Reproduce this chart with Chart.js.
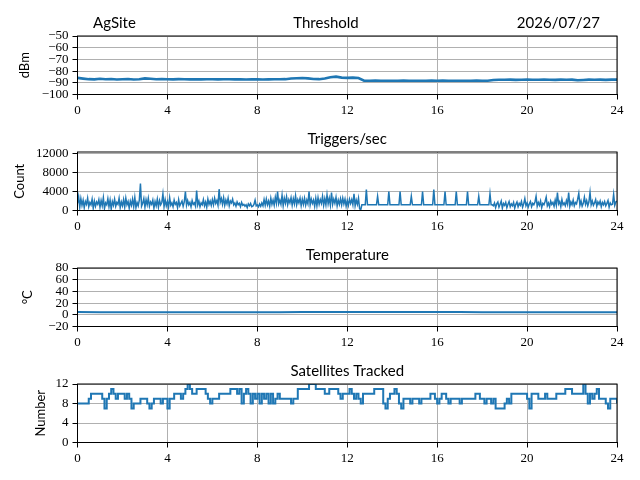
<!DOCTYPE html>
<html>
<head>
<meta charset="utf-8">
<script src="https://cdn.jsdelivr.net/npm/chart.js@4.4.1/dist/chart.umd.min.js"></script>
<style>
  body { margin: 0; background: #fff; }
  .panel { position: absolute; left: 0; width: 640px; height: 116px; }
</style>
</head>
<body>
<div class="panel" style="top:0"><canvas id="threshold" width="640" height="116"></canvas></div>
<div class="panel" style="top:116px"><canvas id="triggers" width="640" height="116"></canvas></div>
<div class="panel" style="top:232px"><canvas id="temperature" width="640" height="116"></canvas></div>
<div class="panel" style="top:348px"><canvas id="satellites" width="640" height="116"></canvas></div>
<script>
// x axis: hours of the day
const hourTicks = [0, 4, 8, 12, 16, 20, 24];

// threshold, dBm, one reading every 15 min
const thresholdStep = 0.25;
const thresholdDbm = [
  -85.8, -86.4, -86.9, -87.1,  -86.6, -87.0, -86.8, -87.2,  -87.0, -86.8, -87.2, -87.0,
  -86.2, -86.5, -87.0, -86.7,  -87.0, -87.1, -86.9, -87.0,  -87.1, -87.0, -87.1, -87.0,
  -87.0, -87.1, -87.0, -87.0,  -87.1, -87.0, -87.2, -87.1,  -87.1, -87.2, -87.1, -87.0,
  -87.0, -86.9, -86.3, -86.1,  -85.9, -86.2, -86.8, -86.9,  -86.4, -85.3, -84.7, -85.6,
  -85.8, -85.6, -85.9, -88.2,  -88.2, -88.1, -88.2, -88.2,  -88.2, -88.2, -88.1, -88.2,
  -88.2, -88.2, -88.2, -88.1,  -88.2, -88.1, -88.2, -88.2,  -88.2, -88.2, -88.2, -88.1,
  -88.2, -88.2, -87.6, -87.4,  -87.4, -87.3, -87.5, -87.4,  -87.3, -87.4, -87.4, -87.3,
  -87.4, -87.5, -87.3, -87.4,  -87.3, -87.8, -87.6, -87.3,  -87.4, -87.3, -87.5, -87.3,
  -87.3
];
const thresholdTicks = [-100, -90, -80, -70, -60, -50];

// triggers per second, one reading every 3 min (20 per row = 1 hour)
const triggerStep = 0.05;
const triggerCounts = [
  1500, 2900, 700, 2500, 1100, 2200, 600, 1900, 1300, 2600, 800, 1700, 1200, 2400, 500, 2000, 900, 1800, 1300, 2300,
  700, 2100, 1000, 2700, 400, 1600, 1200, 2500, 800, 2200, 300, 1900, 1100, 2400, 900, 1700, 1300, 2600, 600, 1800,
  1000, 2300, 700, 2600, 1200, 1900, 500, 2000, 1100, 2400, 800, 2700, 600, 1700, 1000, 2200, 5700, 900, 1500, 2500,
  700, 2300, 1200, 2600, 900, 1800, 1300, 2200, 500, 1900, 1000, 2400, 700, 2100, 1200, 1700, 3500, 800, 2300, 1000,
  1900, 700, 2700, 1100, 1600, 800, 2200, 1300, 1700, 600, 2300, 1000, 1500, 2000, 900, 1800, 4000, 1100, 2100, 1200,
  1700, 800, 2100, 1300, 1600, 900, 4200, 1200, 2000, 800, 1600, 1200, 2300, 1000, 1800, 700, 2400, 1300, 2000, 1100,
  2300, 1200, 2600, 1500, 2100, 1100, 4500, 1700, 2500, 1300, 2700, 1100, 2200, 1400, 2600, 1000, 2000, 1600, 2400, 1200,
  1600, 900, 1800, 1200, 1500, 800, 1700, 1100, 1300, 900, 1200, 600, 1400, 1000, 1500, 800, 900, 1300, 2200, 1000,
  1200, 800, 1400, 900, 1600, 1000, 2300, 1100, 2400, 1200, 2000, 900, 2600, 1300, 2200, 1100, 2800, 1500, 4000, 1400,
  2200, 1300, 3200, 1000, 2600, 1500, 2900, 1200, 2300, 1600, 2700, 1100, 2500, 1400, 3100, 1200, 2300, 1600, 2600, 1000,
  2400, 1300, 2600, 1100, 2200, 1400, 4000, 1200, 2400, 1500, 2200, 900, 2600, 1000, 2700, 1300, 2300, 1500, 3000, 1100,
  2500, 1200, 3300, 1400, 2600, 1100, 3800, 1300, 2400, 1500, 2800, 1000, 2200, 1300, 2500, 1200, 2600, 1400, 2400, 900,
  2100, 1100, 2400, 1500, 2300, 1200, 3500, 1000, 2200, 1300, 2600, 400, 100, 1200, 1200, 1200, 1200, 4400, 1200, 1200,
  1200, 1200, 1200, 1200, 1200, 1200, 1200, 3000, 1200, 1200, 1200, 1200, 1200, 1200, 1200, 1200, 1200, 4000, 1200, 1200,
  1200, 1200, 1200, 1200, 1200, 1200, 1200, 4000, 1200, 1200, 1200, 1200, 1200, 1200, 1200, 1200, 1200, 3000, 1200, 1200,
  1200, 1200, 1200, 1200, 1200, 1200, 1200, 4000, 1200, 1200, 1200, 1200, 1200, 1200, 1200, 1200, 1200, 4400, 1200, 1200,
  1200, 1200, 1200, 1200, 1200, 1200, 1200, 4000, 1200, 1200, 1200, 1200, 1200, 1200, 1200, 1200, 1200, 4000, 1200, 1200,
  1200, 1200, 1200, 1200, 1200, 1200, 1200, 4000, 1200, 1200, 1200, 1200, 1200, 1200, 1200, 1200, 1200, 3000, 1200, 1200,
  1200, 1200, 1200, 1200, 1200, 1200, 1200, 3500, 1200, 1200, 1000, 1600, 600, 1400, 1800, 700, 1300, 2000, 500, 1500,
  1100, 1700, 600, 1300, 1900, 800, 1400, 1000, 1700, 500, 1300, 1800, 800, 1500, 1100, 1900, 700, 1400, 2500, 1000,
  1600, 700, 1400, 1900, 800, 1500, 1200, 1800, 3000, 900, 1700, 1100, 2000, 600, 1500, 1200, 1900, 2800, 1000, 1600,
  800, 2000, 1300, 1700, 900, 2200, 1100, 3800, 1400, 1900, 800, 2300, 1200, 1600, 1000, 2100, 1300, 3800, 900, 1800,
  1200, 2200, 1000, 1700, 1400, 2400, 3600, 1100, 2000, 900, 1500, 2800, 1300, 2100, 1000, 1800, 3800, 1200, 2000, 1100,
  1600, 2300, 900, 1800, 1300, 2000, 800, 1700, 1200, 1900, 1000, 1500, 2100, 700, 1600, 1200, 1300, 3400, 1100, 1800,
  2000
];
const triggerTicks = [0, 4000, 8000, 12000];

// temperature, deg C, hourly
const tempStep = 1;
const temperatureC = [
  4.6, 4.5, 4.5, 4.4, 4.4, 4.3, 4.3, 4.3, 4.4, 4.5, 4.6, 4.7,
  4.7, 4.8, 4.7, 4.7, 4.6, 4.6, 4.5, 4.5, 4.4, 4.4, 4.4, 4.5, 4.5
];
const tempTicks = [-20, 0, 20, 40, 60, 80];

// satellites tracked, one reading every 6 min
const satStep = 0.1;
const satellitesTracked = [
  8, 8, 8, 8, 8, 9, 10, 10, 10, 10,
  10, 9, 7, 9, 10, 11, 10, 9, 10, 10,
  10, 9, 10, 9, 7, 8, 8, 8, 9, 9,
  9, 8, 7, 8, 9, 9, 9, 8, 9, 9,
  7, 9, 9, 10, 10, 10, 9, 10, 11, 12,
  11, 10, 10, 11, 11, 11, 11, 10, 9, 8,
  9, 9, 9, 10, 10, 10, 10, 10, 11, 11,
  11, 10, 11, 8, 10, 11, 10, 8, 10, 9,
  10, 8, 10, 9, 10, 8, 10, 8, 9, 10,
  9, 9, 9, 9, 9, 8, 9, 9, 11, 11,
  11, 11, 11, 12, 12, 12, 11, 11, 11, 11,
  10, 10, 11, 11, 11, 11, 10, 9, 10, 10,
  10, 11, 10, 9, 10, 9, 8, 10, 10, 10,
  10, 10, 11, 11, 11, 11, 8, 7, 9, 10,
  10, 11, 10, 8, 7, 9, 9, 9, 8, 9,
  9, 9, 8, 9, 9, 9, 9, 10, 10, 9,
  8, 9, 10, 10, 9, 8, 9, 9, 9, 9,
  8, 9, 9, 9, 9, 9, 9, 10, 10, 9,
  9, 8, 9, 9, 8, 9, 7, 7, 7, 7,
  8, 9, 8, 10, 10, 10, 10, 10, 10, 10,
  9, 7, 10, 10, 10, 9, 9, 9, 10, 9,
  9, 9, 9, 10, 10, 10, 10, 11, 11, 11,
  10, 10, 10, 10, 10, 12, 10, 8, 10, 9,
  10, 11, 9, 9, 9, 8, 7, 9, 9, 9,
  8
];
const satTicks = [0, 4, 8, 12];

const blue = '#1f77b4';
const serif = "'Liberation Serif', 'DejaVu Serif', serif";
const sans = "Lato, 'Noto Sans', sans-serif";

// titles above each panel and the top/right spines
const panelText = {
  id: 'panelText',
  afterDraw(chart, args, opts) {
    const ctx = chart.ctx;
    const a = chart.chartArea;
    ctx.save();
    ctx.strokeStyle = '#000';
    ctx.lineWidth = 1;
    ctx.strokeRect(a.left, a.top, a.right - a.left, a.bottom - a.top);
    ctx.fillStyle = '#000';
    ctx.font = '15px ' + sans;
    ctx.textBaseline = 'alphabetic';
    (opts.items || []).forEach(t => {
      ctx.textAlign = t.align || 'center';
      const x = t.x == null ? (a.left + a.right) / 2 : t.x;
      ctx.fillText(t.text, x, a.top - 8);
    });
    ctx.restore();
  }
};

function fmt(v) {
  return String(v).replace('-', '\u2212');
}

function makePanel(id, cfg) {
  const points = cfg.values.map((v, i) => ({ x: i * cfg.step, y: v }));
  return new Chart(document.getElementById(id), {
    type: 'line',
    data: {
      datasets: [{
        data: points,
        borderColor: blue,
        borderWidth: cfg.lineWidth || 1.6,
        pointRadius: 0,
        stepped: cfg.stepped || false,
        tension: 0
      }]
    },
    options: {
      responsive: false,
      animation: false,
      layout: { padding: { top: 36, right: 23, bottom: 0, left: 0 } },
      plugins: {
        legend: { display: false },
        tooltip: { enabled: false },
        panelText: { items: cfg.titles }
      },
      scales: {
        x: {
          type: 'linear',
          min: 0,
          max: 24,
          afterBuildTicks: s => { s.ticks = hourTicks.map(v => ({ value: v })); },
          afterFit: s => { s.height = 21.5; },
          grid: { color: '#b0b0b0', lineWidth: 1, tickColor: '#000', tickLength: 5 },
          border: { color: '#000', width: 1 },
          ticks: { color: '#000', padding: 3, maxRotation: 0, autoSkip: false, font: { family: serif, size: 13 }, callback: fmt }
        },
        y: {
          min: cfg.min,
          max: cfg.max,
          afterBuildTicks: s => { s.ticks = cfg.ticks.map(v => ({ value: v })); },
          afterFit: s => { s.width = 77.5; },
          grid: { color: '#b0b0b0', lineWidth: 1, tickColor: '#000', tickLength: 5 },
          border: { color: '#000', width: 1 },
          ticks: { color: '#000', padding: 4, autoSkip: false, font: { family: serif, size: 13 }, callback: fmt },
          title: {
            display: true,
            text: cfg.yLabel,
            color: '#000',
            font: { family: sans, size: 13 },
            padding: { top: cfg.labelPad, bottom: 0 }
          }
        }
      }
    },
    plugins: [panelText]
  });
}

makePanel('threshold', {
  values: thresholdDbm, step: thresholdStep, min: -100, max: -50, ticks: thresholdTicks,
  yLabel: 'dBm', labelPad: 17, lineWidth: 2.6,
  titles: [
    { text: 'AgSite', x: 93, align: 'left' },
    { text: 'Threshold', x: 326, align: 'center' },
    { text: '2026/07/27', x: 600, align: 'right' }
  ]
});

makePanel('triggers', {
  values: triggerCounts, step: triggerStep, min: 0, max: 12350, ticks: triggerTicks,
  yLabel: 'Count', labelPad: 12, lineWidth: 1.5,
  titles: [{ text: 'Triggers/sec' }]
});

makePanel('temperature', {
  values: temperatureC, step: tempStep, min: -20, max: 80, ticks: tempTicks,
  yLabel: '\u00b0C', labelPad: 20, lineWidth: 2,
  titles: [{ text: 'Temperature' }]
});

makePanel('satellites', {
  values: satellitesTracked, step: satStep, min: 0, max: 12, ticks: satTicks,
  yLabel: 'Number', labelPad: 33, lineWidth: 2, stepped: true,
  titles: [{ text: 'Satellites Tracked' }]
});
</script>
</body>
</html>
